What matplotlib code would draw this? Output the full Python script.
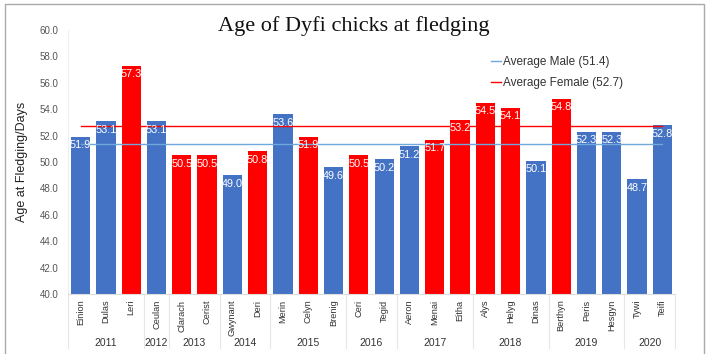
import matplotlib.pyplot as plt
from matplotlib.lines import Line2D
from matplotlib.transforms import blended_transform_factory

plt.rcParams["font.family"] = ["Liberation Sans", "DejaVu Sans"]

names = ["Einion", "Dulas", "Leri", "Ceulan", "Clarach", "Cerist", "Gwynant", "Deri",
         "Merin", "Celyn", "Brenig", "Ceri", "Tegid", "Aeron", "Menai", "Eitha",
         "Alys", "Helyg", "Dinas", "Berthyn", "Peris", "Hesgyn", "Tywi", "Teifi"]
ages = [51.9, 53.1, 57.3, 53.1, 50.5, 50.5, 49.0, 50.8,
        53.6, 51.9, 49.6, 50.5, 50.2, 51.2, 51.7, 53.2,
        54.5, 54.1, 50.1, 54.8, 52.3, 52.3, 48.7, 52.8]
sex = ["M", "M", "F", "M", "F", "F", "M", "F",
       "M", "F", "M", "F", "M", "M", "F", "F",
       "F", "F", "M", "F", "M", "M", "M", "M"]
years = ["2011", "2012", "2013", "2014", "2015", "2016", "2017", "2018", "2019", "2020"]
year_counts = [3, 1, 2, 2, 3, 2, 3, 3, 3, 2]
avg_male = 51.4
avg_female = 52.7

blue = "#4472c4"
red = "#ff0000"

fig = plt.figure(figsize=(7.07, 3.54), dpi=100)
ax = fig.add_axes([68 / 707, 1 - 294 / 354, 607 / 707, 264 / 354])

x = list(range(len(names)))
colors = [blue if s == "M" else red for s in sex]
ax.bar(x, [a - 40 for a in ages], bottom=40, width=0.76, color=colors, zorder=2)

ax.plot([0, len(names) - 1], [avg_male, avg_male], color="#6fa8dc", lw=1, zorder=3,
        label=f"Average Male ({avg_male})")
ax.plot([0, len(names) - 1], [avg_female, avg_female], color=red, lw=1, zorder=3,
        label=f"Average Female ({avg_female})")

for xi, a in zip(x, ages):
    ax.annotate(f"{a:.1f}", (xi, a), xytext=(0, -2.5), textcoords="offset points",
                ha="center", va="top", color="white", fontsize=7.8, zorder=4)

ax.set_xlim(-0.5, len(names) - 0.5)
ax.set_ylim(40, 60)
ax.set_yticks(range(40, 61, 2))
ax.set_yticklabels([f"{v:.1f}" for v in range(40, 61, 2)])
ax.set_xticks(x)
ax.set_xticklabels(names, rotation=90, fontsize=6.7, color="#333333")
ax.tick_params(axis="both", length=0)
ax.tick_params(axis="y", labelsize=7, labelcolor="#555555", pad=7)
ax.tick_params(axis="x", pad=4)
for sp in ["top", "right", "left"]:
    ax.spines[sp].set_visible(False)
ax.spines["bottom"].set_color("#dddddd")
ax.spines["bottom"].set_linewidth(0.8)
ax.axvline(-0.5, color="#eeeeee", lw=0.8, zorder=1)

ax.set_ylabel("Age at Fledging/Days", fontsize=9, color="#222222", labelpad=8)

# year groups under the names
trans = blended_transform_factory(ax.transData, ax.transAxes)
start = 0
bounds = [-0.5]
for yr, n in zip(years, year_counts):
    mid = start + (n - 1) / 2
    ax.text(mid, -49 / 264, yr, transform=trans, ha="center", va="center",
            fontsize=7.5, color="#333333")
    start += n
    bounds.append(start - 0.5)
for b in bounds:
    ax.plot([b, b], [0, -54 / 264], transform=trans, color="#e6e6e6", lw=0.8,
            clip_on=False)

leg = ax.legend(loc="upper left", bbox_to_anchor=(0.68, 0.94), frameon=False,
                fontsize=8.5, handlelength=0.8, handletextpad=0.15, labelspacing=0.75)
for t in leg.get_texts():
    t.set_color("#333333")

fig.text(0.5, 1 - 26 / 354, "Age of Dyfi chicks at fledging", ha="center", va="center",
         fontsize=16, family="Liberation Serif", color="#111111")

# outer frame of the chart area
fig.add_artist(Line2D([5 / 707, 5 / 707, 704 / 707, 704 / 707],
                      [0, 1 - 4 / 354, 1 - 4 / 354, 0], color="#aaaaaa", lw=1))

fig.savefig("out.png", dpi=100)
